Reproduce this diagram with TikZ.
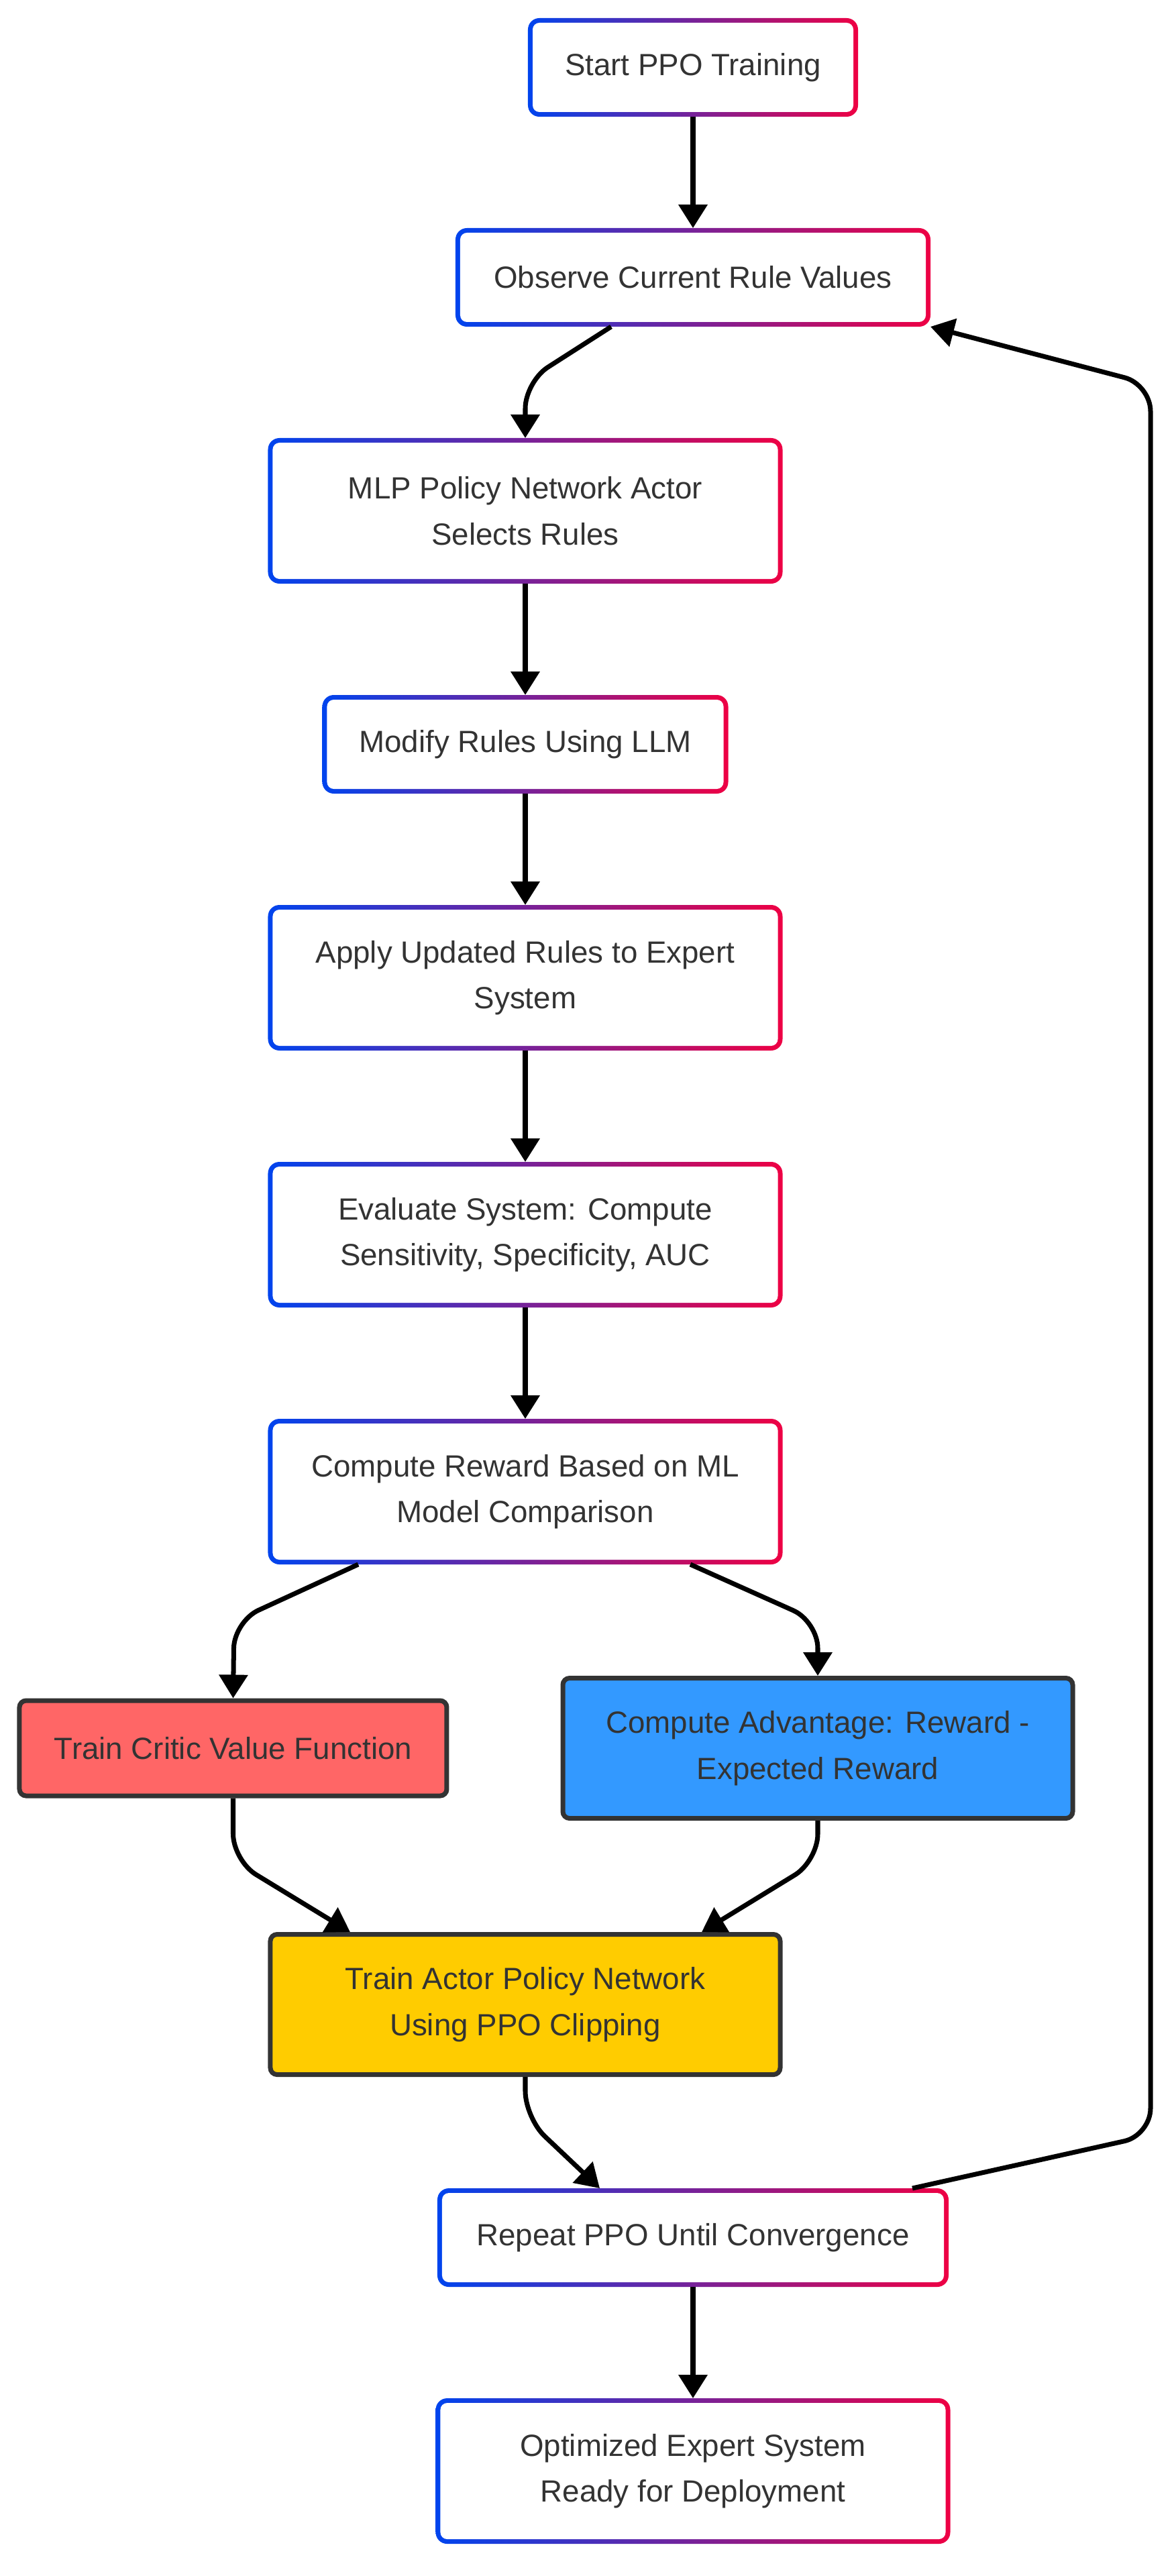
\documentclass[tikz,border=0pt]{standalone}
\usepackage{fontspec}
\setmainfont{Liberation Sans}
\usepackage{tikz}
\usetikzlibrary{positioning, arrows.meta, backgrounds}

\definecolor{gblue}{HTML}{0044EE}
\definecolor{gred}{HTML}{EE0044}
\definecolor{boxline}{HTML}{333333}
\definecolor{criticred}{HTML}{FF6666}
\definecolor{advblue}{HTML}{3399FF}
\definecolor{actoryellow}{HTML}{FFCC00}

\begin{document}
\begin{tikzpicture}[
        node distance=1.66cm,
        box/.style={rectangle, rounded corners=1mm, align=center, text=boxline,
            font=\fontsize{13pt}{19.5pt}\selectfont},
        gradbox/.style={box, fill=white, outer sep=0.07cm, minimum height=1.33cm},
        widebox/.style={gradbox, minimum width=7.53cm, minimum height=2.03cm},
        colbox/.style={box, draw=boxline, line width=0.07cm, minimum height=1.42cm},
        flow/.style={line width=2pt, rounded corners=0.4cm, -{Triangle[length=3.5mm, width=4.2mm]}}
    ]
        \useasboundingbox (-10.33,1.005) rectangle (7.19,-37.395);
        \node [gradbox, minimum width=4.78cm] (start) at (0,0) {Start PPO Training};
        \node [gradbox, minimum width=6.94cm, below=of start] (observe) {Observe Current Rule Values};
        \node [widebox, below=of observe, xshift=-2.5cm] (mlp) {MLP Policy Network Actor\\Selects Rules};
        \node [gradbox, minimum width=5.91cm, below=of mlp] (modify) {Modify Rules Using LLM};
        \node [widebox, below=of modify] (apply) {Apply Updated Rules to Expert\\System};
        \node [widebox, below=of apply] (evaluate) {Evaluate System: Compute\\Sensitivity, Specificity, AUC};
        \node [widebox, below=of evaluate] (reward) {Compute Reward Based on ML\\Model Comparison};
        \node [colbox, fill=advblue, minimum width=7.60cm, minimum height=2.09cm, below=of reward, xshift=4.36cm] (advantage) {Compute Advantage: Reward -\\Expected Reward};
        \node [colbox, fill=criticred, minimum width=6.37cm, left=of advantage] (critic) {Train Critic Value Function};
        \node [colbox, fill=actoryellow, minimum width=7.60cm, minimum height=2.09cm, below=of advantage, xshift=-4.36cm] (actor) {Train Actor Policy Network\\Using PPO Clipping};
        \node [gradbox, minimum width=7.48cm, below=of actor, xshift=2.5cm] (repeat) {Repeat PPO Until Convergence};
        \node [widebox, below=of repeat] (optimized) {Optimized Expert System\\Ready for Deployment};

        % gradient borders
        \begin{scope}[on background layer]
            \foreach \n in {start, observe, mlp, modify, apply, evaluate, reward, repeat, optimized}
                \shade [left color=gblue, right color=gred, rounded corners=1.7mm] (\n.south west) rectangle (\n.north east);
        \end{scope}

        \draw [flow] (start) to (observe);
        \draw [flow] ([xshift=-1.22cm]observe.south) -- ++(-1.28,-0.82) -- (mlp.north);
        \draw [flow] (mlp) to (modify);
        \draw [flow] (modify) to (apply);
        \draw [flow] (apply) to (evaluate);
        \draw [flow] (evaluate) to (reward);
        \draw [flow] ([xshift=-2.49cm]reward.south) -- ++(-1.85,-0.85) -- (critic.north);
        \draw [flow] ([xshift=2.46cm]reward.south) -- ++(1.90,-0.85) -- (advantage.north);
        \draw [flow] (critic.south) -- ++(0,-0.93) -- ([xshift=-2.61cm]actor.north);
        \draw [flow] (advantage.south) -- ++(0,-0.6) -- ([xshift=2.63cm]actor.north);
        \draw [flow] (actor.south) -- ++(0,-0.61) -- ([xshift=-1.39cm]repeat.north);
        \draw [flow] ([xshift=3.27cm]repeat.north) -- ++(3.55,0.79) -- ++(0,26.1) -- (observe.south east);
        \draw [flow] (repeat) to (optimized);
    \end{tikzpicture}
\end{document}
